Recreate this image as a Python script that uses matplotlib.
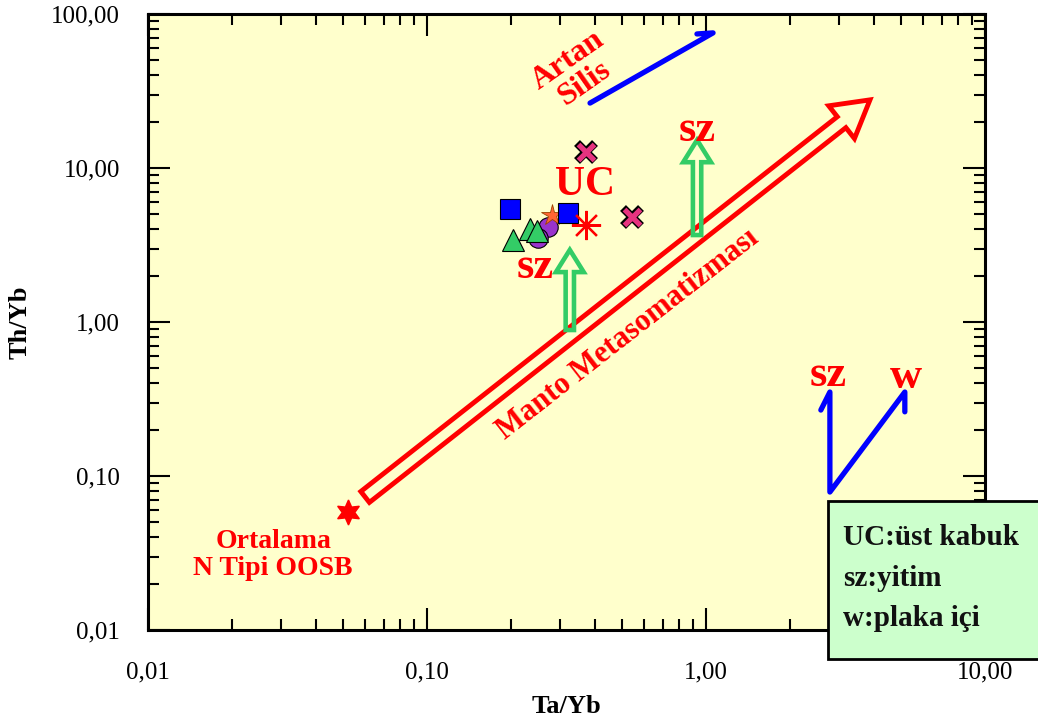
import numpy as np
import matplotlib
matplotlib.use("Agg")
import matplotlib.pyplot as plt
from matplotlib.patches import FancyArrowPatch, ArrowStyle, Rectangle
from matplotlib.ticker import FixedLocator, FixedFormatter, LogLocator, NullFormatter

plt.rcParams['font.family'] = ['Liberation Serif', 'DejaVu Serif']

# sample groups (Ta/Yb, Th/Yb)
square_x = [0.198, 0.32]
square_y = [5.42, 5.10]
triangle_x = [0.203, 0.234, 0.248]
triangle_y = [3.40, 4.00, 3.90]
circle_x = [0.272, 0.25]
circle_y = [4.14, 3.51]
star_x = [0.28]
star_y = [4.95]
cross_x = [0.371, 0.543]
cross_y = [12.7, 4.81]

# reference compositions
uc_x, uc_y = [0.371], [4.27]
nmorb_x, nmorb_y = [0.052], [0.058]

# trend arrows
mantle_start, mantle_end = (0.060, 0.0731), (3.87, 27.7)
sz_arrow1 = ((0.325, 0.887), (0.325, 2.94))
sz_arrow2 = ((0.929, 3.67), (0.929, 15.2))
silica_x = [0.384, 1.06, 0.928]
silica_y = [26.4, 75.4, 74.2]
vector_x = [2.58, 2.78, 2.78, 5.16, 5.16]
vector_y = [0.268, 0.351, 0.0787, 0.351, 0.261]

tick_vals_x = [0.01, 0.1, 1, 10]
tick_lbls_x = ["0,01", "0,10", "1,00", "10,00"]
tick_vals_y = [0.01, 0.1, 1, 10, 100]
tick_lbls_y = ["0,01", "0,10", "1,00", "10,00", "100,00"]

legend_lines = ["UC:üst kabuk", "sz:yitim", "w:plaka içi"]

RED = "#FF0000"
GREEN = "#33CC66"
BLUE = "#0000FF"

fig = plt.figure(figsize=(10.38, 7.2), dpi=100)
ax = fig.add_axes([148 / 1038, 1 - 630 / 720, (985 - 148) / 1038, (630 - 14) / 720])
ax.set_facecolor("#FFFFCC")
ax.set_xscale("log")
ax.set_yscale("log")
ax.set_xlim(0.01, 10)
ax.set_ylim(0.01, 100)

for s in ax.spines.values():
    s.set_linewidth(2.2)

ax.xaxis.set_major_locator(FixedLocator(tick_vals_x))
ax.xaxis.set_major_formatter(FixedFormatter(tick_lbls_x))
ax.yaxis.set_major_locator(FixedLocator(tick_vals_y))
ax.yaxis.set_major_formatter(FixedFormatter(tick_lbls_y))
for axis in (ax.xaxis, ax.yaxis):
    axis.set_minor_locator(LogLocator(base=10, subs=np.arange(2, 10)))
    axis.set_minor_formatter(NullFormatter())
ax.tick_params(which="both", direction="in", top=True, right=True, width=1.5)
ax.tick_params(which="major", length=16, labelsize=18)
ax.tick_params(which="minor", length=8)
ax.tick_params(axis="x", pad=23)
ax.tick_params(axis="y", pad=20)

ax.set_xlabel("Ta/Yb", fontsize=19, fontweight="bold", labelpad=8)
ax.set_ylabel("Th/Yb", fontsize=19, fontweight="bold", labelpad=14)


def hollow_arrow(start, end, color, tail, head_w, head_l, lw):
    style = ArrowStyle.Simple(head_length=head_l, head_width=head_w, tail_width=tail)
    arr = FancyArrowPatch(start, end, arrowstyle=style, mutation_scale=1,
                          facecolor="none", edgecolor=color, lw=lw,
                          shrinkA=0, shrinkB=0, joinstyle="miter", zorder=3)
    ax.add_patch(arr)


hollow_arrow(mantle_start, mantle_end, RED, 10, 30, 26, 3.5)
hollow_arrow(sz_arrow1[0], sz_arrow1[1], GREEN, 6, 20, 16, 3.3)
hollow_arrow(sz_arrow2[0], sz_arrow2[1], GREEN, 6, 20, 16, 3.3)

ax.plot(silica_x, silica_y, color=BLUE, lw=3.8, solid_capstyle="round",
        solid_joinstyle="round", zorder=3)
ax.plot(vector_x, vector_y, color=BLUE, lw=3.8, solid_capstyle="round",
        solid_joinstyle="round", zorder=3)

# data points
ax.plot(circle_x, circle_y, "o", ms=14, mfc="#9933CC", mec="black", mew=0.8, zorder=5)
ax.plot(triangle_x, triangle_y, "^", ms=16, mfc=GREEN, mec="black", mew=0.8, zorder=6)
ax.plot(star_x, star_y, "*", ms=16, mfc="#FF6633", mec="#994400", mew=0.6, zorder=7)
ax.plot(square_x, square_y, "s", ms=15, mfc=BLUE, mec="black", mew=0.8, zorder=8)
ax.plot(cross_x, cross_y, "x", ms=13, mec="black", mew=6.0, ls="none", zorder=8)
ax.plot(cross_x, cross_y, "x", ms=12, mec="#E6337F", mew=3.8, ls="none", zorder=9)
ax.plot(uc_x, uc_y, marker=(8, 2, 0), ms=21, color=RED, mew=1.6, ls="none", zorder=8)
ax.plot(nmorb_x, nmorb_y, marker=(6, 1, 0), ms=18, color=RED, ls="none", zorder=8)

# annotations
tkw = dict(color=RED, fontweight="bold", ha="center", va="center", zorder=9)
ax.text(0.368, 7.76, "UC", fontsize=30, **tkw)
ax.text(0.929, 17.7, "sz", fontsize=32, **tkw)
ax.text(0.244, 2.27, "sz", fontsize=32, **tkw)
ax.text(2.73, 0.453, "sz", fontsize=32, **tkw)
ax.text(5.21, 0.44, "w", fontsize=32, **tkw)
ax.text(0.342, 42.0, "Artan\nSilis", fontsize=23, rotation=35,
        multialignment="center", linespacing=1.0, **tkw)
ax.text(0.525, 0.824, "Manto Metasomatizması", fontsize=22, rotation=38,
        rotation_mode="anchor", **tkw)
ax.text(0.0281, 0.0307, "Ortalama\nN Tipi OOSB", fontsize=20,
        multialignment="center", linespacing=1.1, **tkw)

# legend box, partly outside the figure
box = Rectangle((828 / 1038, 1 - 659 / 720), 0.25, (659 - 501) / 720,
                transform=fig.transFigure, facecolor="#CCFFCC", edgecolor="black",
                lw=2, clip_on=False, zorder=10)
fig.patches.append(box)
for i, line in enumerate(legend_lines):
    fig.text(843 / 1038, 1 - (545 + 40.5 * i) / 720, line, fontsize=21,
             fontweight="bold", color="#111111", va="baseline", ha="left", zorder=11)

fig.savefig("out.png", dpi=100)
